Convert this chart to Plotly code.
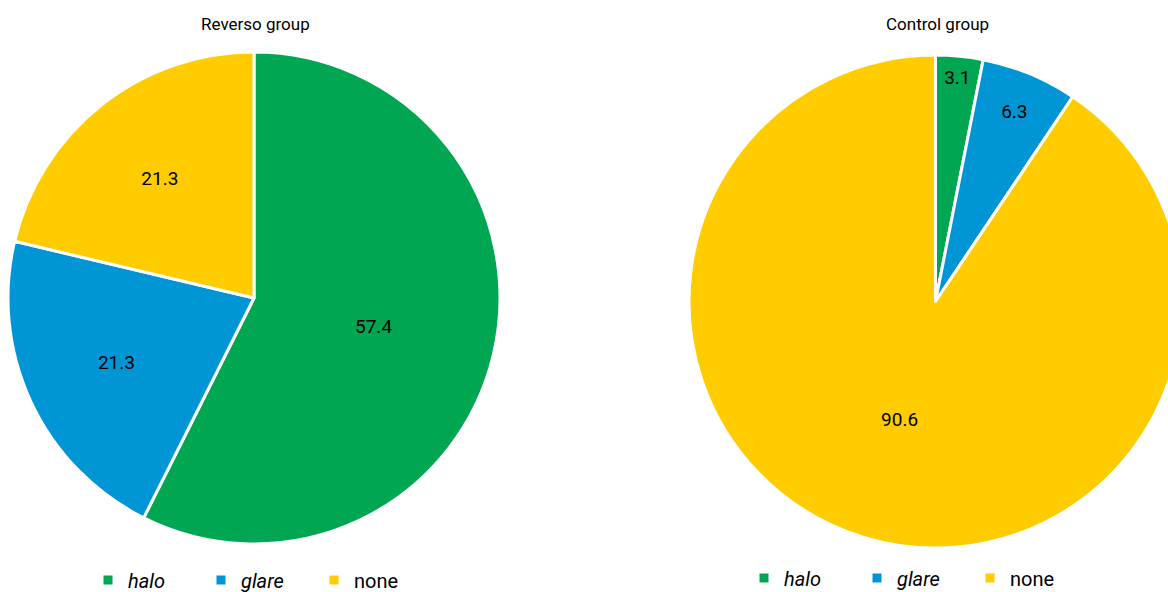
import plotly.graph_objects as go

labels = ["<i>halo</i>", "<i>glare</i>", "none"]
reverso_values = [57.4, 21.3, 21.3]
control_values = [3.1, 6.3, 90.6]
colors = ["#00A651", "#0096D6", "#FFCC00"]
titles = ["Reverso group", "Control group"]

FONT = "Roboto, Liberation Sans, sans-serif"
W, H = 1190, 640   # page is cropped to the 1168x592 window


def px_x(v):
    return v / W


def px_y(v):
    return 1 - v / H


common = dict(
    labels=labels, sort=False, direction="clockwise", rotation=0,
    marker=dict(colors=colors, line=dict(color="white", width=3)),
    textinfo="value", texttemplate="%{value:.1f}", textposition="inside",
    insidetextorientation="horizontal",
    textfont=dict(family=FONT, size=19, color="black"),
    showlegend=True, hoverinfo="label+value",
)

fig = go.Figure()
fig.add_trace(go.Pie(
    values=reverso_values, legend="legend", legendgroup="reverso",
    domain=dict(x=[px_x(8), px_x(500)], y=[px_y(544), px_y(52)]),
    **common,
))
fig.add_trace(go.Pie(
    values=control_values, legend="legend2", legendgroup="control",
    domain=dict(x=[px_x(689), px_x(1182)], y=[px_y(548), px_y(55)]),
    **common,
))

for t, cx in zip(titles, [255, 937]):
    fig.add_annotation(text=t, x=px_x(cx), y=px_y(24), xref="paper", yref="paper",
                       xanchor="center", yanchor="middle", showarrow=False,
                       font=dict(family=FONT, size=17, color="black"))

leg_common = dict(orientation="h", yanchor="middle", xanchor="left",
                  traceorder="normal",
                  font=dict(family=FONT, size=20, color="black"),
                  entrywidth=68, entrywidthmode="pixels", bgcolor="rgba(0,0,0,0)",
                  itemclick=False, itemdoubleclick=False)
fig.update_layout(
    width=W, height=H,
    margin=dict(l=0, r=0, t=0, b=0),
    paper_bgcolor="white", plot_bgcolor="white",
    legend=dict(x=px_x(88), y=px_y(580), **leg_common),
    legend2=dict(x=px_x(744), y=px_y(578), **leg_common),
)

fig.write_html(
    "out.html",
    config={"displayModeBar": False},
    post_script="document.body.style.margin='0';document.body.style.overflow='hidden';",
)
